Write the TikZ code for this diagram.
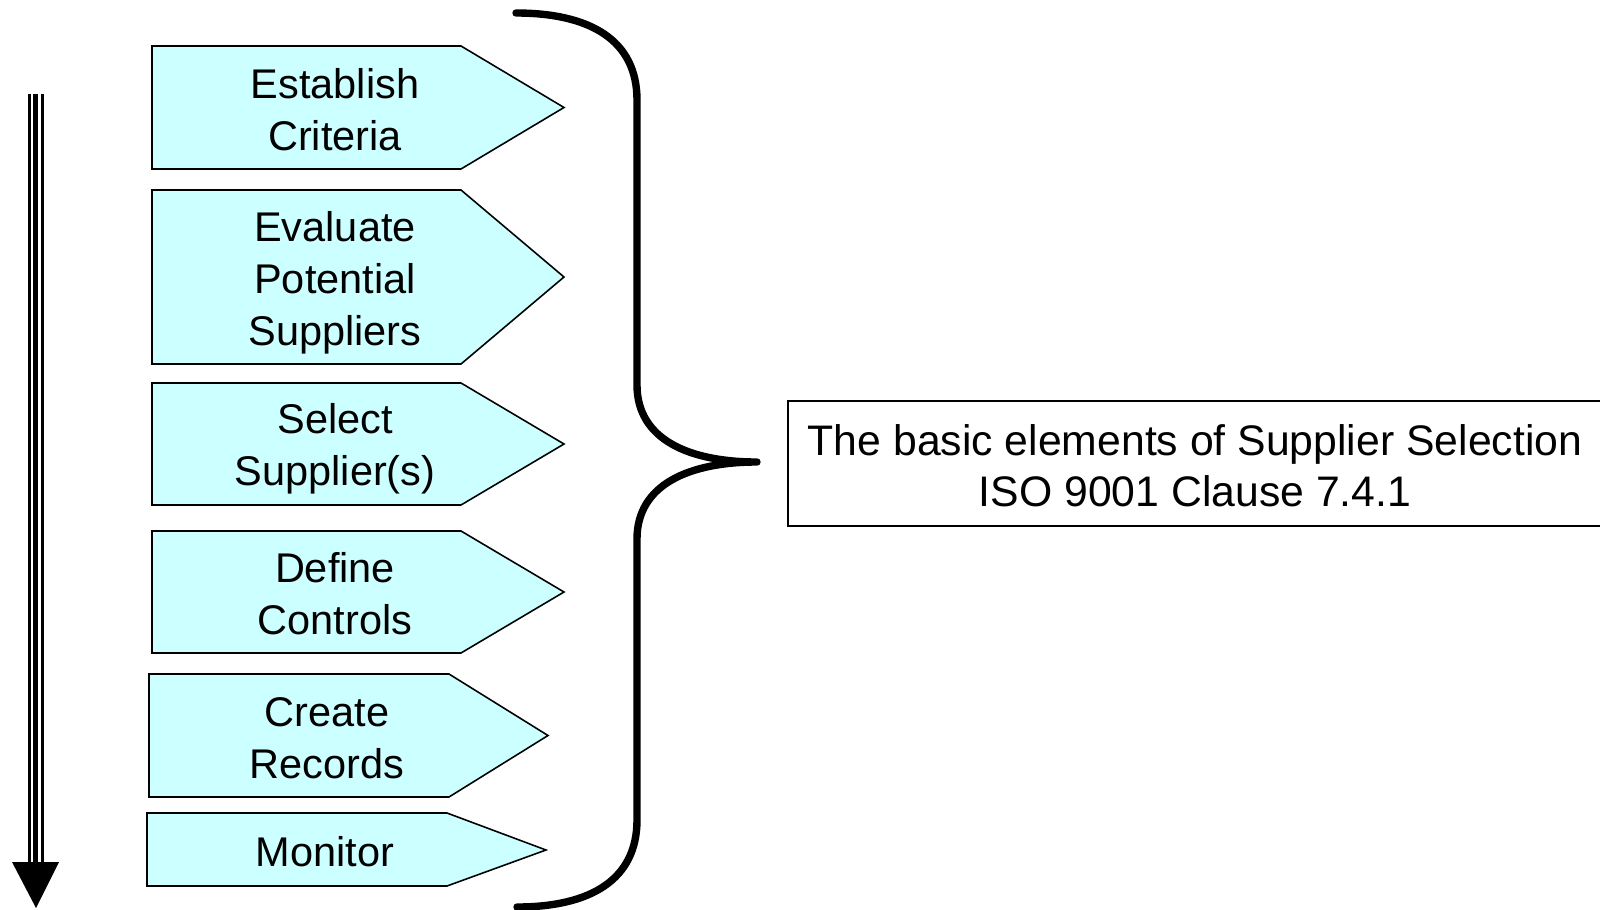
\documentclass[tikz,border=0pt]{standalone}
\usepackage{fontspec}
\setmainfont{Liberation Sans}
\definecolor{stepcyan}{RGB}{204,255,255}
\usetikzlibrary{calc}
\tikzset{
  stepshape/.style={draw=black,fill=stepcyan,line width=0.45pt,line join=miter},
  steptext/.style={font=\fontsize{11.8}{14.8}\selectfont,align=center,inner sep=0pt},
  bracepath/.style={draw=black,line width=2.1pt,line cap=round,line join=round}
}
\begin{document}
\begin{tikzpicture}[x=0.01cm,y=-0.01cm]
  \useasboundingbox (0,0) rectangle (1600,909);

  %% Flow arrow on the left
  \coordinate (flowtop) at (36,94);
  \coordinate (flowend) at (36,862);
  \draw[line width=0.16cm] (flowtop) -- (flowend);
  \draw[line width=0.10cm,white] (flowtop) -- (flowend);
  \draw[line width=0.05cm] ($(flowtop)+(-0.5,0)$) -- ($(flowend)+(-0.5,0)$);
  \fill ($(flowend)+(-24,0)$) -- ($(flowend)+(23,0)$) -- ($(flowend)+(0,46)$) -- cycle;

  %% Steps
  \draw[stepshape] (152,46) -- (461,46) -- (564,107.5) -- (461,169) -- (152,169) -- cycle;
  \node[steptext] (crit) at (335,110) {Establish\\Criteria};

  \draw[stepshape] (152,190) -- (461,190) -- (564,277) -- (461,364) -- (152,364) -- cycle;
  \node[steptext] (eval) at (335,283) {Evaluate\\Potential\\Suppliers};

  \draw[stepshape] (152,383) -- (461,383) -- (564,444) -- (461,505) -- (152,505) -- cycle;
  \node[steptext] (select) at (335,449) {Select\\Supplier(s)};

  \draw[stepshape] (152,531) -- (461,531) -- (564,592) -- (461,653) -- (152,653) -- cycle;
  \node[steptext] (controls) at (335,594) {Define\\Controls};

  \draw[stepshape] (149,674) -- (449,674) -- (548,735.5) -- (449,797) -- (149,797) -- cycle;
  \node[steptext] (records) at (327,738) {Create\\Records};

  \draw[stepshape] (147,813) -- (447,813) -- (546,850) -- (447,886) -- (147,886) -- cycle;
  \node[steptext] (monitor) at (325,852) {Monitor};

  %% Brace
  \draw[bracepath] (516,13) .. controls (590,13) and (637,40) .. (637,100)
        -- (637,385) .. controls (637,440) and (690,462) .. (757,462)
        .. controls (690,462) and (637,484) .. (637,539)
        -- (637,820) .. controls (637,880) and (590,907) .. (517,907);

  %% Summary box (runs off the right edge)
  \node[draw=black,line width=0.55pt,minimum width=8.22cm,minimum height=1.25cm,
        inner sep=0pt] (summary) at (1199,463.5) {};
  \node[steptext,font=\fontsize{12.15}{14.5}\selectfont] (summarytext) at (1195,466)
        {The basic elements of Supplier Selection\\ISO 9001 Clause 7.4.1};
\end{tikzpicture}
\end{document}
